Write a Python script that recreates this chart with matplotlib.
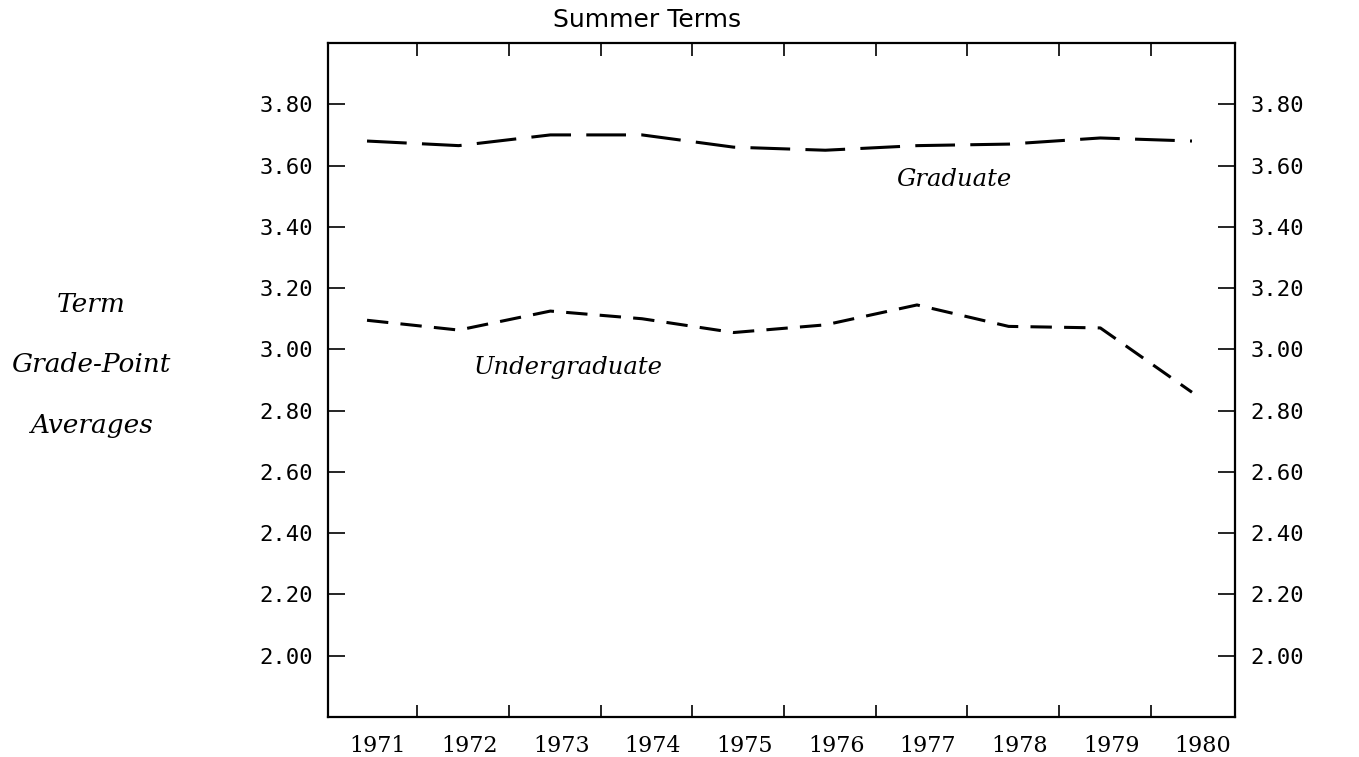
import matplotlib.pyplot as plt
from matplotlib.ticker import FixedLocator

# data
years = [1971, 1972, 1973, 1974, 1975, 1976, 1977, 1978, 1979, 1980]
graduate = [3.68, 3.665, 3.70, 3.70, 3.66, 3.65, 3.665, 3.67, 3.69, 3.68]
undergraduate = [3.095, 3.063, 3.125, 3.10, 3.055, 3.08, 3.145, 3.075, 3.07, 2.86]
yticks = [2.00, 2.20, 2.40, 2.60, 2.80, 3.00, 3.20, 3.40, 3.60, 3.80]

fig = plt.figure(figsize=(13.59, 7.57), dpi=100)
ax = fig.add_axes([0.2414, 0.0528, 0.6674, 0.8904])

ax.plot(years, graduate, color='black', lw=2.2, dashes=(13, 5))
ax.plot(years, undergraduate, color='black', lw=2.2, dashes=(7, 4))

ax.set_xlim(1970.575, 1980.47)
ax.set_ylim(1.80, 4.00)

# year labels sit between tick marks
ax.set_xticks([y + 0.12 for y in years])
ax.set_xticklabels([str(y) for y in years], fontsize=16, family='DejaVu Serif')
ax.tick_params(axis='x', which='major', length=0, pad=13)
ax.xaxis.set_minor_locator(FixedLocator([y + 0.55 for y in years[:-1]]))
ax.tick_params(axis='x', which='minor', direction='in', length=9, width=1.2,
               top=True, bottom=True)

ax.set_yticks(yticks)
ax.set_yticklabels(['%.2f' % v for v in yticks], fontsize=16, family='DejaVu Sans Mono')
ax.tick_params(axis='y', direction='in', length=12, width=1.2, left=True, right=True,
               labelleft=True, labelright=True, pad=11)

for s in ax.spines.values():
    s.set_linewidth(1.6)

fig.text(647 / 1359, 1 - 20 / 757, 'Summer Terms', ha='center', va='center',
         fontsize=18, family='DejaVu Sans')
ax.text(1977.4, 3.555, 'Graduate', ha='center', va='center', fontsize=17.5,
        style='italic', family='DejaVu Serif')
ax.text(1973.2, 2.94, 'Undergraduate', ha='center', va='center', fontsize=17.5,
        style='italic', family='DejaVu Serif')

for label, ypx in [('Term', 305), ('Grade-Point', 365), ('Averages', 425)]:
    fig.text(91 / 1359, 1 - ypx / 757, label, ha='center', va='center', fontsize=19,
             style='italic', family='DejaVu Serif')

plt.savefig('out.png', dpi=100)
